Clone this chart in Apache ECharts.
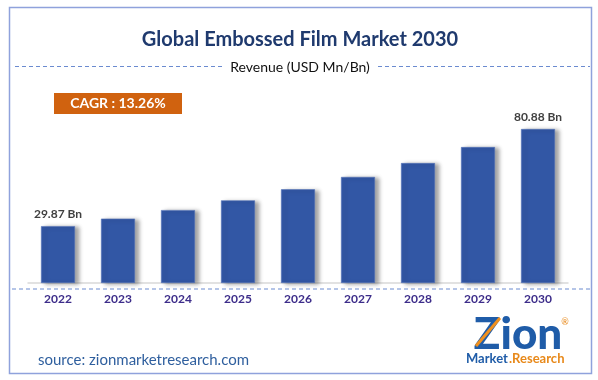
<!DOCTYPE html>
<html><head><meta charset="utf-8">
<script src="https://cdn.jsdelivr.net/npm/echarts@6/dist/echarts.min.js"></script>
<style>html,body{margin:0;padding:0;background:#fff}#c{width:598px;height:380px}</style>
</head><body><div id="c"></div>
<script>
const years = ['2022','2023','2024','2025','2026','2027','2028','2029','2030'];
const revenue = [29.87, 33.8, 38.3, 43.4, 49.2, 55.7, 63.0, 71.4, 80.88];
const labelText = {0: '29.87 Bn', 8: '80.88 Bn'};
const titleText = 'Global Embossed Film Market 2030';
const subtitleText = 'Revenue (USD Mn/Bn)';
const cagrText = 'CAGR : 13.26%';
const sourceText = 'source: zionmarketresearch.com';

const chart = echarts.init(document.getElementById('c'), null, {renderer: 'canvas'});
const F = 'Lato, "Open Sans", sans-serif';
const dashBlue = '#6b8bd0';
chart.setOption({
  animation: false,
  backgroundColor: '#fff',
  grid: {left: 28, right: 30, top: 92.6, bottom: 97},
  xAxis: {
    type: 'category', data: years,
    axisLine: {lineStyle: {color: '#d9d9d9', width: 1.5}},
    axisTick: {show: false},
    axisLabel: {color: '#3d2d8a', fontWeight: 'bold', fontSize: 12, fontFamily: F, margin: 10}
  },
  yAxis: {type: 'value', min: 0, max: 100, show: false, splitLine: {show: false}},
  series: [{
    type: 'bar', barWidth: 34,
    data: revenue.map((v, i) => ({
      value: v,
      label: labelText[i] ? {show: true, position: 'top', distance: 6, formatter: labelText[i],
        color: '#404040', fontWeight: 'bold', fontSize: 12, fontFamily: F} : {show: false}
    })),
    itemStyle: {color: '#3257a5', borderColor: '#5574b8', borderWidth: 0.6,
      shadowColor: 'rgba(0,0,0,0.35)', shadowBlur: 4, shadowOffsetX: 4, shadowOffsetY: 1}
  }],
  graphic: [
    {type: 'rect', shape: {x: 9.5, y: 7.5, width: 582, height: 366}, style: {fill: 'none', stroke: '#8fa2dc', lineWidth: 1.5}, z: 0},
    {type: 'text', x: 300, y: 40, style: {text: titleText, fill: '#1f3a6e', font: 'bold 20px ' + F, textAlign: 'center', textVerticalAlign: 'middle'}},
    {type: 'line', shape: {x1: 15, y1: 66.5, x2: 222, y2: 66.5}, style: {stroke: dashBlue, lineWidth: 1, lineDash: [4, 3]}},
    {type: 'line', shape: {x1: 378, y1: 66.5, x2: 590, y2: 66.5}, style: {stroke: dashBlue, lineWidth: 1, lineDash: [4, 3]}},
    {type: 'text', x: 300, y: 67, style: {text: subtitleText, fill: '#111', font: '14px ' + F, textAlign: 'center', textVerticalAlign: 'middle'}},
    {type: 'rect', shape: {x: 54, y: 93, width: 128, height: 21}, style: {fill: '#d0620f'}},
    {type: 'text', x: 118, y: 103.5, style: {text: cagrText, fill: '#fff', font: 'bold 14px ' + F, textAlign: 'center', textVerticalAlign: 'middle'}},
    {type: 'line', shape: {x1: 12, y1: 289, x2: 590, y2: 289}, style: {stroke: dashBlue, lineWidth: 1, lineDash: [4, 3]}},
    {type: 'text', x: 38, y: 360, style: {text: sourceText, fill: '#2f5f9e', font: '15px ' + F, textAlign: 'left', textVerticalAlign: 'middle'}},
    {type: 'text', x: 518, y: 335, style: {text: 'Zion', fill: '#1f5ca8', font: '900 44px ' + F, textAlign: 'center', textVerticalAlign: 'middle'}},
    {type: 'line', shape: {x1: 476, y1: 346, x2: 500, y2: 318}, style: {stroke: '#f0901e', lineWidth: 3}},
    {type: 'text', x: 565, y: 322, style: {text: '®', fill: '#e8891a', font: '9px ' + F, textAlign: 'center', textVerticalAlign: 'middle'}},
    {type: 'text', x: 466, y: 359, style: {text: 'Market', fill: '#1f5ca8', font: 'bold 13px ' + F, textAlign: 'left', textVerticalAlign: 'middle'}},
    {type: 'text', x: 509, y: 359, style: {text: '.Research', fill: '#e8891a', font: 'bold 13px ' + F, textAlign: 'left', textVerticalAlign: 'middle'}}
  ]
});
</script></body></html>
